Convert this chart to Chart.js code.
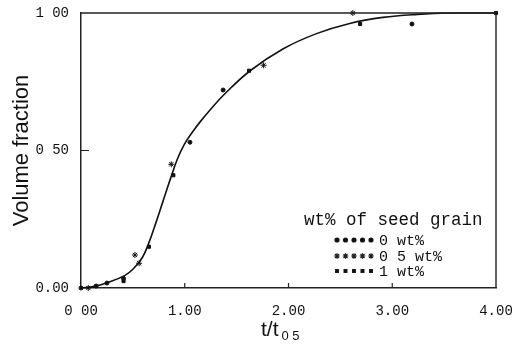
<!DOCTYPE html>
<html>
<head>
<meta charset="utf-8">
<script src="https://cdn.jsdelivr.net/npm/chart.js@4"></script>
<style>
  html, body { margin: 0; padding: 0; background: #fff; }
  #wrap { width: 517px; height: 350px; }
</style>
</head>
<body>
<div id="wrap"><canvas id="myChart"></canvas></div>
<script>
// tick labels as printed on the figure
const xTickLabels = ['0 00', '1.00', '2.00', '3.00', '4.00'];
const yTickLabels = ['0.00', '0 50', '1 00'];

// fitted curve
const curveX = [0, 0.13, 0.26, 0.42, 0.50, 0.59, 0.655, 0.72, 0.79, 0.86, 0.93, 1.00, 1.08, 1.15, 1.25, 1.37, 1.63, 1.95, 2.27, 2.59, 2.91, 3.24, 3.56, 4.00];
const curveY = [0, 0.006, 0.02, 0.045, 0.068, 0.11, 0.165, 0.235, 0.315, 0.395, 0.47, 0.525, 0.57, 0.605, 0.65, 0.70, 0.79, 0.87, 0.925, 0.962, 0.984, 0.995, 1.0, 1.0];

// measured points, one pair of arrays per seed content
const x0 = [0.00, 0.145, 0.25, 0.41, 1.05, 1.37, 3.19];
const y0 = [0.00, 0.007, 0.018, 0.035, 0.53, 0.72, 0.96];
const x05 = [0.07, 0.52, 0.56, 0.87, 1.76, 2.62];
const y05 = [0.00, 0.12, 0.09, 0.45, 0.81, 1.00];
const x1 = [0.41, 0.655, 0.89, 1.62, 2.69, 4.00];
const y1 = [0.025, 0.15, 0.41, 0.79, 0.96, 1.00];

const legendTitle = 'wt% of seed grain';
const legendLabels = ['0 wt%', '0 5 wt%', '1 wt%'];
const legendStyles = ['circle', 'star', 'rect'];

const toPts = (xs, ys) => xs.map((v, i) => ({x: v, y: ys[i]}));

const ink = '#111';

const pointSet = (label, xs, ys, style, r) => ({
    label,
    data: toPts(xs, ys),
    showLine: false,
    pointStyle: style,
    pointRadius: r,
    pointBackgroundColor: ink,
    pointBorderColor: ink,
    pointBorderWidth: 1,
    clip: false,
});

const data = {
    datasets: [
        {
            label: 'fit',
            data: toPts(curveX, curveY),
            showLine: true,
            borderColor: ink,
            borderWidth: 1.6,
            pointRadius: 0,
            tension: 0.4,
            clip: false,
        },
        pointSet(legendLabels[0], x0, y0, 'circle', 2),
        pointSet(legendLabels[1], x05, y05, 'star', 3),
        pointSet(legendLabels[2], x1, y1, 'rect', 2.2),
    ],
};

// frame, inward ticks, x title with subscript, legend block
const extras = {
    id: 'extras',
    afterDraw(chart) {
        const {ctx, chartArea: a, scales: {x, y}} = chart;
        ctx.save();
        ctx.strokeStyle = '#222';
        ctx.lineWidth = 1.4;
        ctx.beginPath();
        ctx.moveTo(a.left, a.top);
        ctx.lineTo(a.right, a.top);
        ctx.lineTo(a.right, a.bottom);
        ctx.stroke();

        ctx.lineWidth = 1.2;
        ctx.beginPath();
        [1, 2, 3].forEach(v => {
            const px = x.getPixelForValue(v);
            ctx.moveTo(px, a.bottom);
            ctx.lineTo(px, a.bottom - 5);
        });
        const py = y.getPixelForValue(0.5);
        ctx.moveTo(a.left, py);
        ctx.lineTo(a.left + 8, py);
        ctx.stroke();

        // x axis title
        ctx.fillStyle = ink;
        ctx.textBaseline = 'alphabetic';
        ctx.textAlign = 'left';
        ctx.font = '21px "Liberation Sans"';
        ctx.fillText('t/t', 261, 336);
        const w = ctx.measureText('t/t').width;
        ctx.font = '13px "Liberation Sans"';
        ctx.fillText('0 5', 261 + w + 3, 340);

        // legend
        ctx.font = '17.5px "Liberation Mono"';
        ctx.textBaseline = 'middle';
        ctx.fillText(legendTitle, 304, 220);
        ctx.font = '15px "Liberation Mono"';
        const rows = [240, 256, 271];
        rows.forEach((ry, k) => {
            for (let i = 0; i < 5; i++) {
                Chart.helpers.drawPoint(ctx, {
                    pointStyle: legendStyles[k],
                    radius: k === 1 ? 2.8 : 2,
                    borderWidth: 1,
                    rotation: 0,
                }, 337 + i * 8.5, ry);
                ctx.fill();
            }
            ctx.fillText(legendLabels[k], 379, ry + 1);
        });
        ctx.restore();
    },
};

const tickFont = {family: '"Liberation Mono"', size: 14};

const config = {
    type: 'scatter',
    data: data,
    options: {
        responsive: false,
        animation: false,
        events: [],
        layout: {padding: {top: 13, right: 21, left: 0, bottom: 0}},
        plugins: {
            legend: {display: false},
            tooltip: {enabled: false},
        },
        scales: {
            x: {
                type: 'linear',
                min: 0,
                max: 4,
                grid: {display: false},
                border: {display: true, color: '#222', width: 1.5},
                ticks: {
                    stepSize: 1,
                    padding: 7,
                    color: ink,
                    font: tickFont,
                    maxRotation: 0,
                    callback: (v) => xTickLabels[Math.round(v)],
                },
                afterFit: (s) => { s.height = 62; s.paddingRight = 0; },
            },
            y: {
                type: 'linear',
                min: 0,
                max: 1,
                grid: {display: false},
                border: {display: true, color: '#222', width: 1.5},
                ticks: {
                    stepSize: 0.5,
                    padding: 4,
                    color: ink,
                    font: tickFont,
                    callback: (v) => yTickLabels[Math.round(v * 2)],
                },
                title: {
                    display: true,
                    text: 'Volume fraction',
                    color: ink,
                    font: {family: '"Liberation Sans"', size: 22},
                    padding: {top: 9, bottom: 0},
                },
                afterFit: (s) => { s.width = 81; },
            },
        },
    },
    plugins: [extras],
};

const canvas = document.getElementById('myChart');
canvas.width = 517;
canvas.height = 350;
const myChart = new Chart(canvas, config);
</script>
</body>
</html>
